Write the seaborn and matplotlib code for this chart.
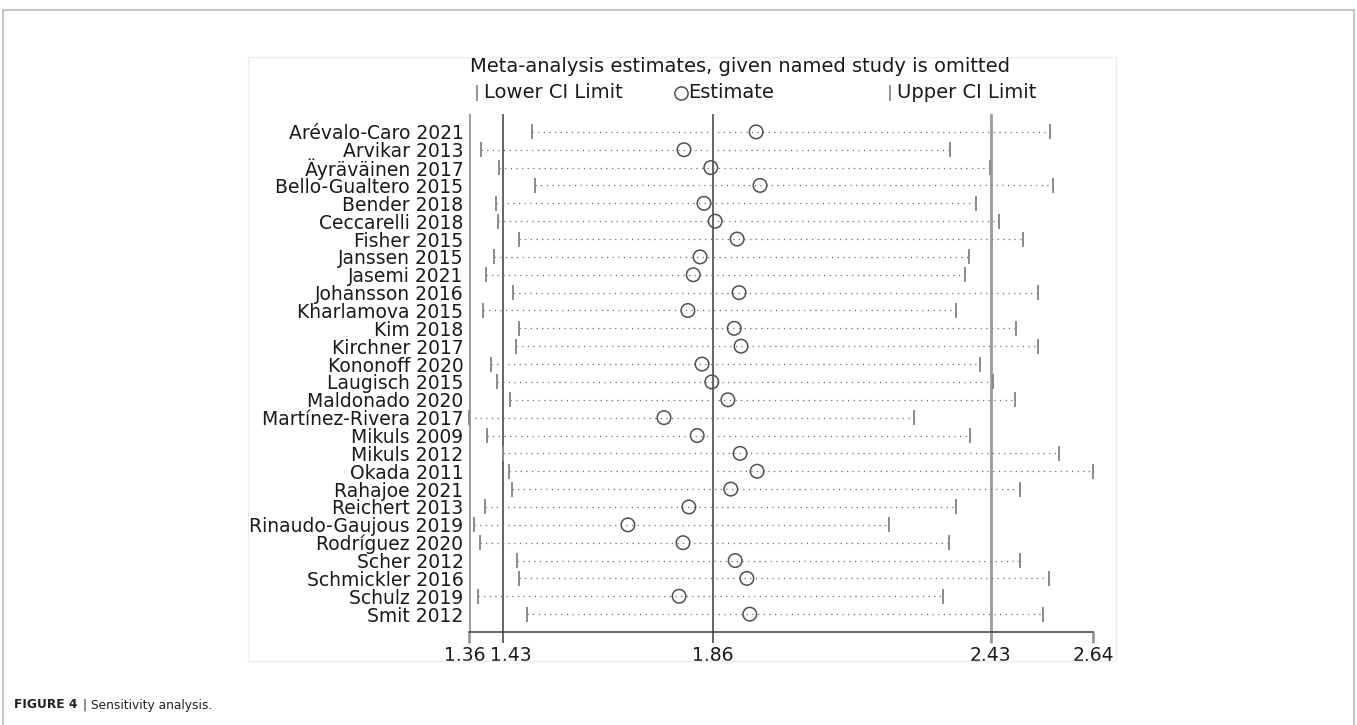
import matplotlib
matplotlib.use('Agg')
import matplotlib.pyplot as plt
import matplotlib.transforms as mtransforms
from matplotlib.patches import Rectangle
from matplotlib.lines import Line2D
import seaborn as sns
import pandas as pd
import numpy as np

# meta-analysis estimates, given named study is omitted
studies = ['Arévalo-Caro 2021', 'Arvikar 2013', 'Äyräväinen 2017', 'Bello-Gualtero 2015',
           'Bender 2018', 'Ceccarelli 2018', 'Fisher 2015', 'Janssen 2015', 'Jasemi 2021',
           'Johansson 2016', 'Kharlamova 2015', 'Kim 2018', 'Kirchner 2017', 'Kononoff 2020',
           'Laugisch 2015', 'Maldonado 2020', 'Martínez-Rivera 2017', 'Mikuls 2009',
           'Mikuls 2012', 'Okada 2011', 'Rahajoe 2021', 'Reichert 2013',
           'Rinaudo-Gaujous 2019', 'Rodríguez 2020', 'Scher 2012', 'Schmickler 2016',
           'Schulz 2019', 'Smit 2012']
estimate = [1.949, 1.801, 1.856, 1.957, 1.842, 1.865, 1.910, 1.834, 1.820, 1.914,
            1.809, 1.904, 1.918, 1.838, 1.858, 1.891, 1.760, 1.828, 1.916, 1.951,
            1.897, 1.811, 1.686, 1.799, 1.906, 1.930, 1.791, 1.936]
lower = [1.489, 1.385, 1.422, 1.495, 1.415, 1.419, 1.463, 1.411, 1.395, 1.450,
         1.389, 1.463, 1.456, 1.405, 1.417, 1.444, 1.360, 1.397, 1.430, 1.442,
         1.448, 1.393, 1.370, 1.383, 1.458, 1.463, 1.378, 1.479]
upper = [2.552, 2.347, 2.428, 2.558, 2.400, 2.447, 2.496, 2.386, 2.377, 2.527,
         2.359, 2.482, 2.527, 2.408, 2.435, 2.480, 2.273, 2.388, 2.570, 2.640,
         2.490, 2.359, 2.222, 2.345, 2.490, 2.550, 2.332, 2.537]

x_ticks = [1.36, 1.43, 1.86, 2.43, 2.64]
tick_labels = ['1.36', '1.43', '1.86', '2.43', '2.64']

df = pd.DataFrame({'study': studies, 'estimate': estimate, 'lower': lower, 'upper': upper})
df['row'] = np.arange(len(df))
n = len(df)

sns.set_theme(style='white')
plt.rcParams['font.family'] = ['DejaVu Sans']

W, H = 1357, 725
fig = plt.figure(figsize=(W / 100, H / 100), dpi=100)
ax = fig.add_axes([469 / W, 1 - 632 / H, 624 / W, 518 / H])

# reference lines (min lower, overall CI and estimate) and tick marks below the axis
line_colors = ['#9a9a9a', '#3a3a3a', '#3a3a3a', '#9a9a9a', '#9a9a9a']
line_widths = [2, 1.1, 1.1, 2, 2]
for xv, c, w in zip(x_ticks[:4], line_colors, line_widths):
    ax.axvline(xv, color=c, lw=w, zorder=1)
ax.vlines(x_ticks, n, n + 0.62, colors=line_colors, lw=line_widths, clip_on=False, zorder=1)

ax.hlines(df['row'], df['lower'], df['upper'], colors='#6e6e6e',
          linestyles=(0, (1, 3.5)), lw=0.9, zorder=2, clip_on=False)
ax.vlines(df['lower'], df['row'] - 0.42, df['row'] + 0.42, colors='#8a8a8a', lw=1.4,
          zorder=3, clip_on=False)
ax.vlines(df['upper'], df['row'] - 0.42, df['row'] + 0.42, colors='#8a8a8a', lw=1.4,
          zorder=3, clip_on=False)
sns.scatterplot(data=df, x='estimate', y='row', marker='o', s=95, facecolor='none',
                edgecolor='#505050', linewidth=1.1, ax=ax, zorder=5, clip_on=False)

ax.set_xlim(1.36, 2.64)
ax.set_ylim(n, -1)
ax.set_xlabel('')
ax.set_ylabel('')
ax.set_yticks(df['row'])
ax.set_yticklabels(studies, fontsize=13.5, color='#1a1a1a')
ax.set_xticks(x_ticks)
ax.set_xticklabels(tick_labels, fontsize=13.5, color='#1a1a1a')
ax.tick_params(axis='y', length=0, pad=4)
ax.tick_params(axis='x', length=0, pad=10)
# nudge the two crowded labels apart
labs = ax.get_xticklabels()
labs[0].set_transform(labs[0].get_transform() +
                      mtransforms.ScaledTranslation(-4 / 100, 0, fig.dpi_scale_trans))
labs[1].set_transform(labs[1].get_transform() +
                      mtransforms.ScaledTranslation(8 / 100, 0, fig.dpi_scale_trans))
for s in ['top', 'right', 'left']:
    ax.spines[s].set_visible(False)
ax.spines['bottom'].set_color('#3a3a3a')
ax.spines['bottom'].set_linewidth(1.1)
ax.set_facecolor('none')

# title and legend
fig.text(740 / W, 1 - 67 / H, 'Meta-analysis estimates, given named study is omitted',
         ha='center', va='center', fontsize=14, color='#1a1a1a')
ly = 1 - 93 / H
fig.add_artist(Line2D([477 / W], [ly], marker='|', ms=11, mew=1.3, color='#8a8a8a',
                      transform=fig.transFigure))
fig.text(484 / W, ly, 'Lower CI Limit', va='center', fontsize=14, color='#1a1a1a')
fig.add_artist(Line2D([681 / W], [ly], marker='o', ms=9.5, mfc='none', mew=1.1,
                      mec='#505050', transform=fig.transFigure))
fig.text(688 / W, ly, 'Estimate', va='center', fontsize=14, color='#1a1a1a')
fig.add_artist(Line2D([890 / W], [ly], marker='|', ms=11, mew=1.3, color='#8a8a8a',
                      transform=fig.transFigure))
fig.text(897 / W, ly, 'Upper CI Limit', va='center', fontsize=14, color='#1a1a1a')

# frames
fig.add_artist(Rectangle((248 / W, 1 - 661 / H), (1116 - 248) / W, (661 - 57) / H,
                         transform=fig.transFigure, fill=False, ec='#ededed', lw=1))
fig.add_artist(Rectangle((3 / W, -0.05), (1354 - 3) / W, 1.05 - 10 / H,
                         transform=fig.transFigure, fill=False, ec='#c8c8c8', lw=1.5))

# caption, pieces laid out one after another
cy = 1 - 705 / H
renderer = fig.canvas.get_renderer()
x_px = 14
for txt, wt in [('FIGURE 4', 'bold'), ('|', 'normal'), ('Sensitivity analysis.', 'normal')]:
    t = fig.text(x_px / W, cy, txt, fontsize=8.8, weight=wt, va='center', color='#222222')
    x_px = t.get_window_extent(renderer).x1 + 5

fig.savefig('out.png', dpi=100)
